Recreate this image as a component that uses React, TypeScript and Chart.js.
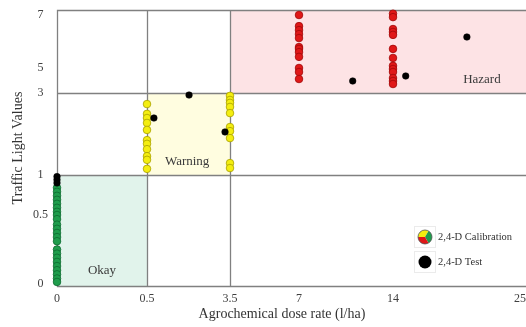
import React, { useEffect, useRef } from "react";
import { Chart, registerables } from "chart.js";

Chart.register(...registerables);

// ---- axis tick values (non-linear "traffic light" axes) ----
const X_TICKS = [0, 0.5, 3.5, 7, 14, 25];
const Y_TICKS = [0, 0.5, 1, 3, 5, 7];

// ---- calibration data: traffic-light values at each dose ----
const okayDose = 0;
const okayValues = [0.84, 0.79, 0.74, 0.69, 0.64, 0.59, 0.54, 0.5, 0.47, 0.43, 0.4, 0.37, 0.34, 0.31, 0.25, 0.22, 0.19, 0.16, 0.13, 0.1, 0.07, 0.04, 0.015];
const warnLowDose = 0.5;
const warnLowValues = [2.73, 2.49, 2.39, 2.27, 2.1, 1.85, 1.76, 1.63, 1.46, 1.37, 1.15];
const warnHighDose = 3.5;
const warnHighValues = [2.93, 2.83, 2.76, 2.66, 2.51, 2.17, 2.07, 1.9, 1.29, 1.17];
const hazardLowDose = 7;
const hazardLowValues = [7.0, 6.58, 6.43, 6.28, 6.13, 5.79, 5.72, 5.6, 5.42, 5.0, 4.68, 4.12];
const hazardHighDose = 14;
const hazardHighValues = [7.05, 6.92, 6.47, 6.36, 6.25, 5.72, 5.38, 5.08, 4.92, 4.68, 4.2, 3.96, 3.72];

// ---- test data ----
const testDose = [0, 0, 0, 0.75, 2.02, 3.32, 11.0, 15.1, 20.4];
const testValues = [0.9, 0.94, 0.98, 2.39, 2.95, 2.05, 3.96, 4.36, 6.17];

const SERIES_LABELS = ["2,4-D Calibration", "2,4-D Test"];
const ZONE_NAMES = ["Okay", "Warning", "Hazard"];

// ---- axis layout (positions of the tick values along each axis, in px of the plot) ----
const X_AXIS_POS = [0, 90, 173, 242, 336, 463];
const X_AXIS_MAX = 469;
const Y_AXIS_POS = [0, 69, 109, 191, 216, 269];
const Y_AXIS_MIN = -2;
const Y_AXIS_MAX = 274;

function piecewise(v: number, knots: number[], pos: number[]): number {
  let i = 0;
  while (i < knots.length - 2 && v > knots[i + 1]) i++;
  const t = (v - knots[i]) / (knots[i + 1] - knots[i]);
  return pos[i] + t * (pos[i + 1] - pos[i]);
}
const tx = (v: number) => piecewise(v, X_TICKS, X_AXIS_POS);
const ty = (v: number) => piecewise(v, Y_TICKS, Y_AXIS_POS);

const SERIF = "'Liberation Serif', 'DejaVu Serif', serif";

const GREEN = { fill: "#1f9d4c", border: "#0e6a30" };
const YELLOW = { fill: "#f4ee10", border: "#a8a000" };
const RED = { fill: "#e01818", border: "#a00808" };

type Zone = { name: string; x: [number | null, number | null]; y: [number | null, number | null]; fill: string; at: [number, number] };
const ZONES: Zone[] = [
  { name: ZONE_NAMES[0], x: [0, 0.5], y: [null, 1], fill: "#e1f3eb", at: [0.25, 0.1] },
  { name: ZONE_NAMES[1], x: [0.5, 3.5], y: [1, 3], fill: "#fffde0", at: [1.95, 1.32] },
  { name: ZONE_NAMES[2], x: [3.5, null], y: [3, null], fill: "#fde3e5", at: [21.7, 4.04] },
];

const zeroPad = (s: any) => {
  s.paddingLeft = 0;
  s.paddingRight = 0;
  s.paddingTop = 0;
  s.paddingBottom = 0;
};

export default function App() {
  const ref = useRef<HTMLCanvasElement | null>(null);

  useEffect(() => {
    const canvas = ref.current;
    if (!canvas) return;

    const calPts: { x: number; y: number }[] = [];
    const calFill: string[] = [];
    const calBorder: string[] = [];
    const add = (dose: number, vals: number[], c: { fill: string; border: string }) => {
      vals.forEach((v) => {
        calPts.push({ x: tx(dose), y: ty(v) });
        calFill.push(c.fill);
        calBorder.push(c.border);
      });
    };
    add(okayDose, okayValues, GREEN);
    add(warnLowDose, warnLowValues, YELLOW);
    add(warnHighDose, warnHighValues, YELLOW);
    add(hazardLowDose, hazardLowValues, RED);
    add(hazardHighDose, hazardHighValues, RED);

    const testPts = testDose.map((d, i) => ({ x: tx(d), y: ty(testValues[i]) }));

    const zonePlugin = {
      id: "zones",
      beforeDraw(chart: any) {
        const { ctx, chartArea: a, scales } = chart;
        const xs = scales.x, ys = scales.y;
        ctx.save();
        ZONES.forEach((z) => {
          const x0 = z.x[0] === null ? a.left : xs.getPixelForValue(tx(z.x[0]));
          const x1 = z.x[1] === null ? a.right : xs.getPixelForValue(tx(z.x[1]));
          const y0 = z.y[0] === null ? a.bottom : ys.getPixelForValue(ty(z.y[0]));
          const y1 = z.y[1] === null ? a.top : ys.getPixelForValue(ty(z.y[1]));
          ctx.fillStyle = z.fill;
          ctx.fillRect(x0, y1, x1 - x0, y0 - y1);
        });
        ctx.restore();
      },
      beforeDatasetsDraw(chart: any) {
        const { ctx, chartArea: a, scales } = chart;
        const xs = scales.x, ys = scales.y;
        ctx.save();
        ctx.strokeStyle = "#808080";
        ctx.lineWidth = 1.3;
        [0.5, 3.5].forEach((v) => {
          const p = Math.round(xs.getPixelForValue(tx(v))) + 0.5;
          ctx.beginPath();
          ctx.moveTo(p, a.top);
          ctx.lineTo(p, a.bottom);
          ctx.stroke();
        });
        [1, 3].forEach((v) => {
          const p = Math.round(ys.getPixelForValue(ty(v))) + 0.5;
          ctx.beginPath();
          ctx.moveTo(a.left, p);
          ctx.lineTo(a.right, p);
          ctx.stroke();
        });
        // frame (the right side runs off the canvas as in the source)
        const l = Math.round(a.left) + 0.5, t = Math.round(a.top) + 0.5, b = Math.round(a.bottom) + 0.5;
        ctx.beginPath();
        ctx.moveTo(a.right + 2, t);
        ctx.lineTo(l, t);
        ctx.lineTo(l, b);
        ctx.lineTo(a.right + 2, b);
        ctx.stroke();
        // zone labels
        ctx.fillStyle = "#3a3a3a";
        ctx.font = `13px ${SERIF}`;
        ctx.textAlign = "center";
        ctx.textBaseline = "middle";
        ZONES.forEach((z) => {
          ctx.fillText(z.name, xs.getPixelForValue(tx(z.at[0])), ys.getPixelForValue(ty(z.at[1])));
        });
        ctx.restore();
      },
      afterDraw(chart: any) {
        const { ctx } = chart;
        ctx.save();
        // x axis title
        ctx.fillStyle = "#333";
        ctx.font = `14px ${SERIF}`;
        ctx.textAlign = "center";
        ctx.textBaseline = "middle";
        ctx.fillText("Agrochemical dose rate (l/ha)", 282, 314);

        // legend
        const lx = 425;
        const rows = [237, 262];
        rows.forEach((cy) => {
          ctx.strokeStyle = "rgba(0,0,0,0.08)";
          ctx.lineWidth = 1;
          ctx.strokeRect(lx - 10.5, cy - 10.5, 21, 21);
        });
        const r = 7;
        const cy0 = rows[0];
        const slices = [
          { a0: -Math.PI, a1: -Math.PI / 3, c: YELLOW.fill },
          { a0: -Math.PI / 3, a1: Math.PI / 3, c: GREEN.fill },
          { a0: Math.PI / 3, a1: Math.PI, c: RED.fill },
        ];
        slices.forEach((s) => {
          ctx.beginPath();
          ctx.moveTo(lx, cy0);
          ctx.arc(lx, cy0, r, s.a0, s.a1);
          ctx.closePath();
          ctx.fillStyle = s.c;
          ctx.fill();
        });
        ctx.beginPath();
        ctx.arc(lx, cy0, r, 0, Math.PI * 2);
        ctx.strokeStyle = "#555";
        ctx.lineWidth = 0.8;
        ctx.stroke();
        ctx.beginPath();
        ctx.arc(lx, rows[1], 6.5, 0, Math.PI * 2);
        ctx.fillStyle = "#000";
        ctx.fill();

        ctx.fillStyle = "#333";
        ctx.font = `10.5px ${SERIF}`;
        ctx.textAlign = "left";
        ctx.textBaseline = "middle";
        ctx.fillText(SERIES_LABELS[0], 438, rows[0]);
        ctx.fillText(SERIES_LABELS[1], 438, rows[1]);
        ctx.restore();
      },
    };

    const chart = new Chart(canvas, {
      type: "scatter",
      data: {
        datasets: [
          {
            label: SERIES_LABELS[0],
            data: calPts,
            pointBackgroundColor: calFill,
            pointBorderColor: calBorder,
            pointBorderWidth: 0.8,
            pointRadius: 3.8,
            order: 1,
          },
          {
            label: SERIES_LABELS[1],
            data: testPts,
            pointBackgroundColor: "#000",
            pointBorderColor: "#000",
            pointBorderWidth: 0.5,
            pointRadius: 3.3,
            order: 0,
          },
        ],
      },
      options: {
        responsive: false,
        animation: false,
        clip: false as any,
        layout: { autoPadding: false, padding: { top: 10, right: 0, left: 0, bottom: 0 } },
        plugins: {
          legend: { display: false },
          tooltip: { enabled: false },
        },
        scales: {
          x: {
            type: "linear",
            min: 0,
            max: X_AXIS_MAX,
            grid: { display: false, drawTicks: false },
            border: { display: false },
            afterBuildTicks: (s: any) => {
              s.ticks = X_AXIS_POS.map((v) => ({ value: v }));
            },
            afterFit: (s: any) => {
              s.height = 41;
              zeroPad(s);
            },
            ticks: {
              autoSkip: false,
              maxRotation: 0,
              padding: 0,
              color: "#404040",
              font: { family: SERIF, size: 12, lineHeight: "26px" },
              callback: (_v: any, i: number) => String(X_TICKS[i]),
            },
            title: { display: false },
          },
          y: {
            type: "linear",
            min: Y_AXIS_MIN,
            max: Y_AXIS_MAX,
            grid: { display: false, drawTicks: false },
            border: { display: false },
            afterBuildTicks: (s: any) => {
              s.ticks = Y_AXIS_POS.map((v) => ({ value: v }));
            },
            afterFit: (s: any) => {
              s.width = 57;
              zeroPad(s);
            },
            ticks: {
              autoSkip: false,
              padding: 9,
              crossAlign: "center",
              color: "#404040",
              font: { family: SERIF, size: 12 },
              callback: (_v: any, i: number) => String(Y_TICKS[i]),
            },
            title: {
              display: true,
              text: "Traffic Light Values",
              color: "#333",
              font: { family: SERIF, size: 14, weight: "normal" },
              padding: { top: 10, bottom: 0 },
            },
          },
        },
      },
      plugins: [zonePlugin],
    } as any);

    return () => chart.destroy();
  }, []);

  return (
    <div style={{ position: "absolute", left: 0, top: 0, width: 526, height: 327, background: "#fff" }}>
      <canvas ref={ref} width={526} height={327} />
    </div>
  );
}
